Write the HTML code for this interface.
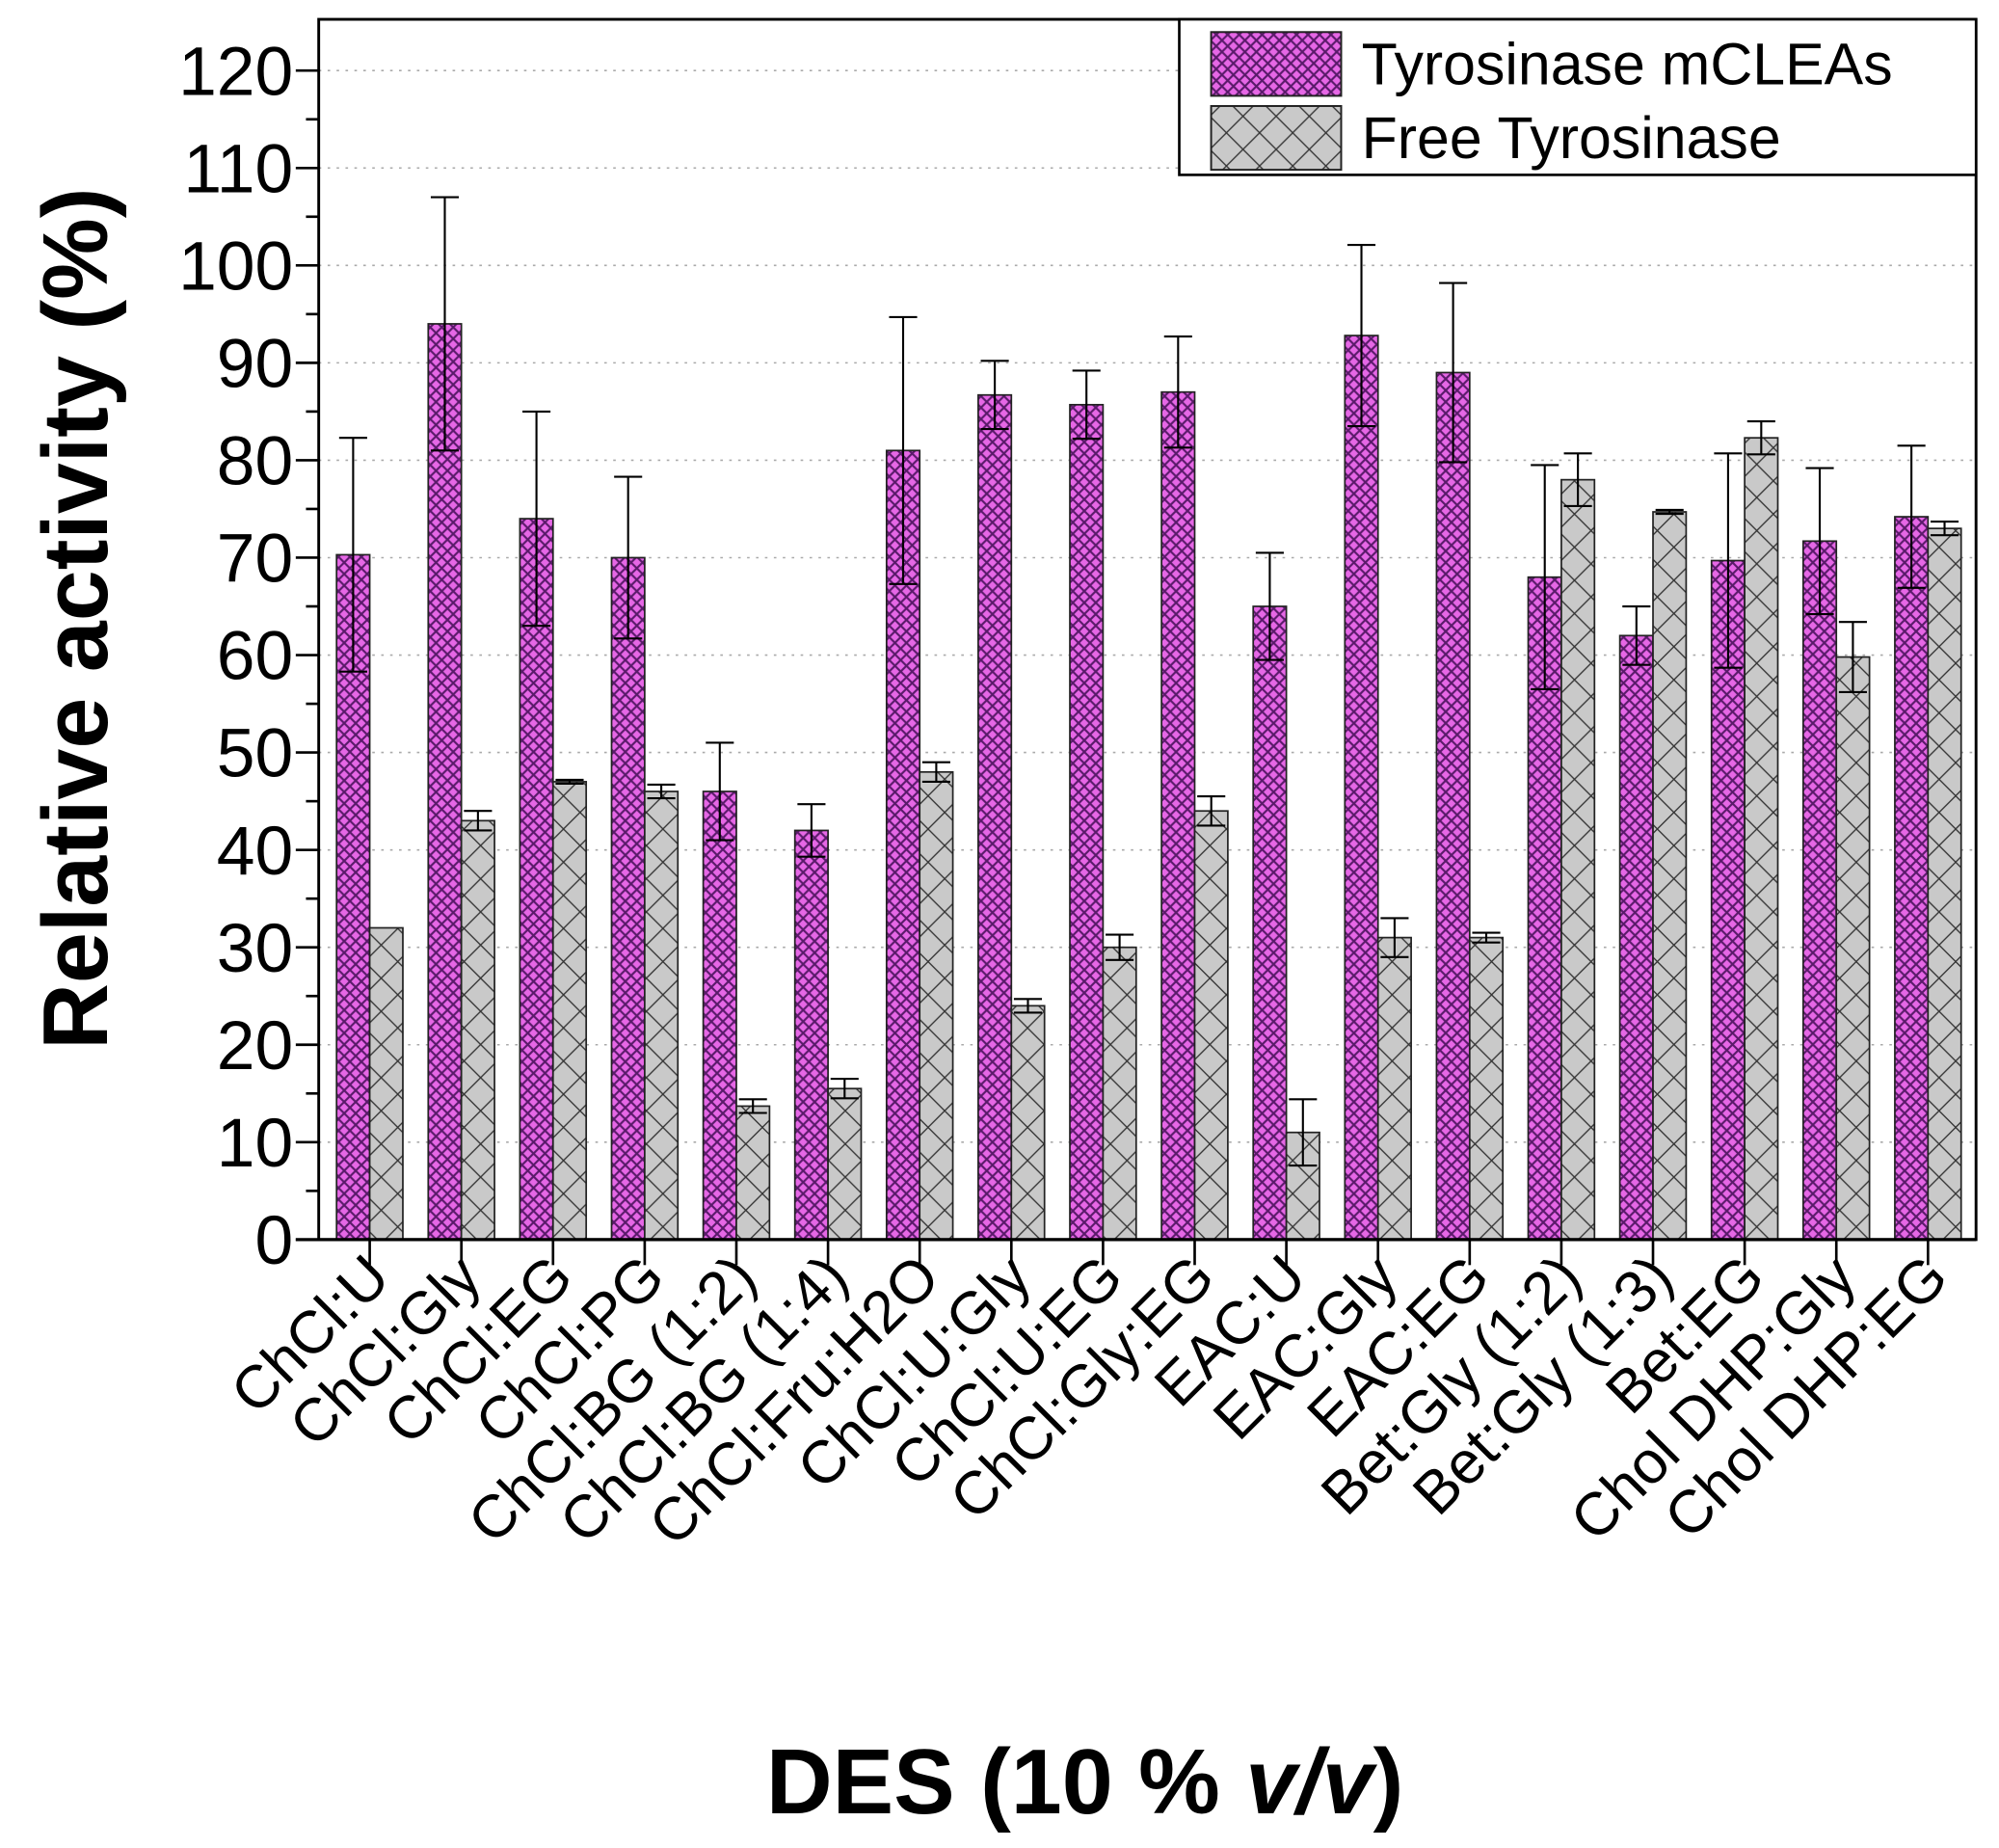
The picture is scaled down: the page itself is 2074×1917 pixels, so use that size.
<!DOCTYPE html>
<html><head><style>html,body{margin:0;padding:0;background:#fff}svg{display:block}</style></head><body>
<svg id="chart" width="2074" height="1917" viewBox="0 0 1568 1449" xmlns="http://www.w3.org/2000/svg" font-family="Liberation Sans, Arial, sans-serif">
<defs>
<pattern id="pk" width="9" height="9" patternUnits="userSpaceOnUse">
<rect width="9" height="9" fill="#e667e6"/>
<path d="M0 0L9 9M9 0L0 9" stroke="#5a1a6a" stroke-width="1.6"/>
</pattern>
<pattern id="gr" width="26" height="26" patternUnits="userSpaceOnUse">
<rect width="26" height="26" fill="#c9c9c9"/>
<path d="M0 0L26 26M26 0L0 26" stroke="#333" stroke-width="1"/>
</pattern>
</defs>
<g id="grid" stroke="#aaa" stroke-width="1.2" stroke-dasharray="2 5"></g>
<g id="bars"></g>
<g id="axes"></g>
</svg>
<script>
var NS="http://www.w3.org/2000/svg";
function el(parent,tag,attrs,txt){var e=document.createElementNS(NS,tag);for(var k in attrs)e.setAttribute(k,attrs[k]);if(txt!==undefined)e.textContent=txt;parent.appendChild(e);return e;}
var y0=972,k=7.64,x0=250,x1=1550;
function Y(v){return y0-v*k;}
var d=[["ChCl:U",70.3,12,32,0],["ChCl:Gly",94,13,43,1],["ChCl:EG",74,11,47,0.2],["ChCl:PG",70,8.3,46,0.7],["ChCl:BG (1:2)",46,5,13.7,0.7],["ChCl:BG (1:4)",42,2.7,15.5,1],["ChCl:Fru:H2O",81,13.7,48,1],["ChCl:U:Gly",86.7,3.5,24,0.7],["ChCl:U:EG",85.7,3.5,30,1.3],["ChCl:Gly:EG",87,5.7,44,1.5],["EAC:U",65,5.5,11,3.4],["EAC:Gly",92.8,9.3,31,2],["EAC:EG",89,9.2,31,0.5],["Bet:Gly (1:2)",68,11.5,78,2.7],["Bet:Gly (1:3)",62,3,74.7,0.2],["Bet:EG",69.7,11,82.3,1.7],["Chol DHP:Gly",71.7,7.5,59.8,3.6],["Chol DHP:EG",74.2,7.3,73,0.7]];
var G=document.getElementById('grid'),B=document.getElementById('bars'),A=document.getElementById('axes');
for(var v=10;v<=120;v+=10){el(G,'line',{x1:x0,x2:x1,y1:Y(v),y2:Y(v)});}
function ln(p,xa,xb,ya,yb,w){el(p,'line',{x1:xa,x2:xb,y1:ya,y2:yb,stroke:'#000','stroke-width':w});}
function err(x,v,e){if(e<=0)return;ln(B,x,x,Y(v+e),Y(v-e),1.6);ln(B,x-11,x+11,Y(v+e),Y(v+e),1.6);ln(B,x-11,x+11,Y(v-e),Y(v-e),1.6);}
for(var i=0;i<d.length;i++){var c=290+i*71.9,r=d[i];
el(B,'rect',{x:c-26,y:Y(r[1]),width:26,height:r[1]*k,fill:'url(#pk)',stroke:'#222','stroke-width':1.3});
el(B,'rect',{x:c,y:Y(r[3]),width:26,height:r[3]*k,fill:'url(#gr)',stroke:'#222','stroke-width':1.3});
err(c-13,r[1],r[2]);err(c+13,r[3],r[4]);
ln(A,c,c,y0,y0+20,2);
el(A,'text',{'font-size':47,'text-anchor':'end',transform:'translate('+(c+18)+',1004) rotate(-45)'},r[0]);}
el(A,'rect',{x:x0,y:15,width:x1-x0,height:y0-15,fill:'none',stroke:'#000','stroke-width':2.2});
ln(A,232,x1,y0,y0,2.5);
for(var v=0;v<=120;v+=5){var L=(v%10==0)?18:10;ln(A,x0-L,x0,Y(v),Y(v),2);
if(v%10==0)el(A,'text',{x:230,y:Y(v)+19,'font-size':54,'text-anchor':'end'},String(v));}
el(A,'rect',{x:925,y:15,width:625,height:122,fill:'#fff',stroke:'#000','stroke-width':2});
el(A,'rect',{x:950,y:25,width:102,height:50,fill:'url(#pk)',stroke:'#222','stroke-width':1.5});
el(A,'rect',{x:950,y:83,width:102,height:50,fill:'url(#gr)',stroke:'#222','stroke-width':1.5});
el(A,'text',{x:1068,y:66,'font-size':46},'Tyrosinase mCLEAs');
el(A,'text',{x:1068,y:124,'font-size':46},'Free Tyrosinase');
el(A,'text',{'font-size':72,'font-weight':'bold','text-anchor':'middle',transform:'translate(84,485) rotate(-90)'},'Relative activity (%)');
var t=el(A,'text',{x:851,y:1422,'font-size':72,'font-weight':'bold','text-anchor':'middle'});
el(t,'tspan',{},'DES (10 % ');el(t,'tspan',{'font-style':'italic'},'v/v');el(t,'tspan',{},')');
</script>
</body></html>
